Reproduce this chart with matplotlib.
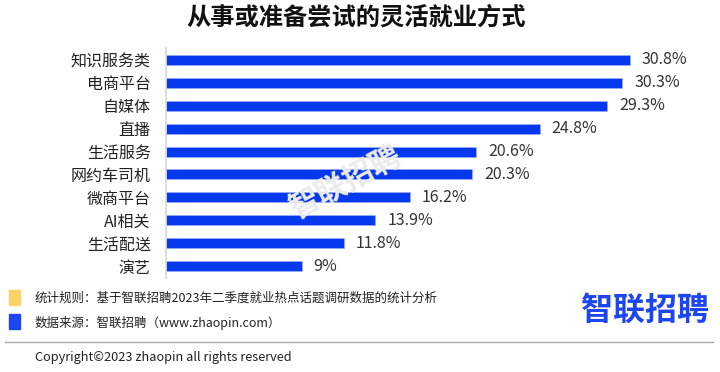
import matplotlib.pyplot as plt
from matplotlib.patches import Rectangle
from matplotlib.lines import Line2D

plt.rcParams['font.family'] = ['Noto Sans CJK SC', 'DejaVu Sans']

categories = ['知识服务类', '电商平台', '自媒体', '直播', '生活服务',
              '网约车司机', '微商平台', 'AI相关', '生活配送', '演艺']
values = [30.8, 30.3, 29.3, 24.8, 20.6, 20.3, 16.2, 13.9, 11.8, 9]
labels = ['30.8%', '30.3%', '29.3%', '24.8%', '20.6%',
          '20.3%', '16.2%', '13.9%', '11.8%', '9%']

W, H = 720, 372
fig = plt.figure(figsize=(W / 100, H / 100), dpi=100)

# axes placed in pixel coords
x0, x1, y0, y1 = 166, 700, 48, 278
ax = fig.add_axes([x0 / W, 1 - y1 / H, (x1 - x0) / W, (y1 - y0) / H])
ppu = (630 - 166) / 30.8
ax.set_xlim(0, (x1 - x0) / ppu)
ax.set_ylim(9.524, -0.524)

pos = range(len(categories))
ax.barh(pos, values, height=0.44, color='#0638ee', edgecolor='#9fb4f8', linewidth=0.4)
for i, (v, t) in enumerate(zip(values, labels)):
    ax.text(v + 12 / ppu, i, t, va='center', ha='left', fontsize=11.5, color='#333333')

ax.set_yticks(list(pos))
ax.set_yticklabels(categories, fontsize=11.5, color='#222222')
ax.tick_params(axis='y', length=0, pad=11)
ax.set_xticks([])
for s in ['top', 'right', 'bottom']:
    ax.spines[s].set_visible(False)
ax.spines['left'].set_color('#d9d9d9')
ax.spines['left'].set_linewidth(1.2)

# title
fig.text(356 / W, 1 - 18 / H, '从事或准备尝试的灵活就业方式', ha='center', va='center',
         fontsize=17.5, fontweight='bold', color='#111111')

# watermark
fig.text(345 / W, 1 - 182 / H, '智联招聘', ha='center', va='center', fontsize=22,
         rotation=28, color='#ececec', fontweight='bold', zorder=0)

# footer notes
fig.patches.append(Rectangle((9 / W, 1 - 305 / H), 11 / W, 15 / H, color='#ffd166',
                             transform=fig.transFigure, figure=fig))
fig.patches.append(Rectangle((9 / W, 1 - 329 / H), 11 / W, 15 / H, color='#1e46f0',
                             transform=fig.transFigure, figure=fig))
fig.text(35 / W, 1 - 298 / H, '统计规则：基于智联招聘2023年二季度就业热点话题调研数据的统计分析',
         ha='left', va='center', fontsize=9, color='#222222')
fig.text(35 / W, 1 - 323 / H, '数据来源：智联招聘（www.zhaopin.com）',
         ha='left', va='center', fontsize=9, color='#222222')
fig.text(645 / W, 1 - 311 / H, '智联招聘', ha='center', va='center', fontsize=23,
         fontweight='bold', color='#1e46f0')

fig.lines.append(Line2D([5 / W, 713 / W], [1 - 342 / H, 1 - 342 / H], color='#aaaaaa',
                        linewidth=1, transform=fig.transFigure, figure=fig))
fig.text(35 / W, 1 - 357 / H, 'Copyright©2023 zhaopin all rights reserved',
         ha='left', va='center', fontsize=9.2, color='#222222')

fig.savefig('out.png', dpi=100)
